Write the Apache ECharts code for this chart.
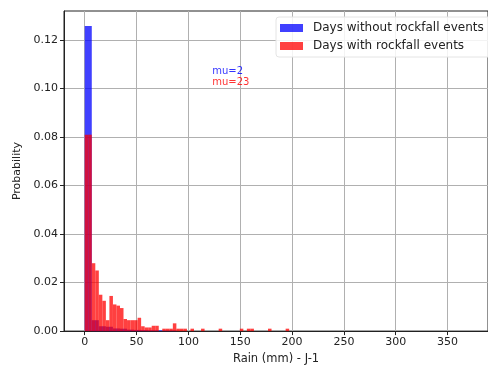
<!DOCTYPE html>
<html>
<head>
<meta charset="utf-8">
<script src="https://cdn.jsdelivr.net/npm/echarts@6/dist/echarts.min.js"></script>
<style>
  html, body { margin: 0; padding: 0; background: #fff; }
  #main { width: 488px; height: 370px; }
</style>
</head>
<body>
<div id="main"></div>
<script>
// histogram bins (bin width in mm, heights = probability)
var blueWidth = 6.8;
var blueHeights = [0.1258, 0.0045, 0.002, 0.0018, 0.0011, 0.001, 0.0006, 0.0005, 0.0004, 0.0003, 0.0003, 0.0002, 0.0002];
var redWidth = 3.4;
var redHeights = [
  0.081, 0.081, 0.028, 0.025, 0.015, 0.0125, 0.0045, 0.0145, 0.011, 0.0105,
  0.0095, 0.005, 0.0045, 0.0045, 0.0045, 0.0055, 0.002, 0.0015, 0.0015, 0.0022,
  0.0022, 0, 0.001, 0.001, 0.001, 0.0032, 0.001, 0.001, 0.001, 0,
  0.001, 0, 0, 0.001, 0, 0, 0, 0, 0.001, 0,
  0, 0, 0, 0, 0.001, 0, 0.001, 0.001, 0, 0,
  0, 0, 0.001, 0, 0, 0, 0, 0.001
];
var seriesNames = ['Days without rockfall events', 'Days with rockfall events'];
var muLabels = ['mu=2', 'mu=23'];
var xTicks = [0, 50, 100, 150, 200, 250, 300, 350];
var yTicks = [0, 0.02, 0.04, 0.06, 0.08, 0.10, 0.12];

var chart = echarts.init(document.getElementById('main'));

function toBins(width, heights) {
  var out = [];
  for (var i = 0; i < heights.length; i++) {
    out.push([i * width, (i + 1) * width, heights[i]]);
  }
  return out;
}

function renderBin(params, api) {
  var p0 = api.coord([api.value(0), api.value(2)]);
  var p1 = api.coord([api.value(1), 0]);
  return {
    type: 'rect',
    shape: { x: p0[0], y: p0[1], width: p1[0] - p0[0], height: p1[1] - p0[1] },
    style: { fill: api.visual('color') }
  };
}

var txt = '#222';
var font = 'DejaVu Sans';

var option = {
  animation: false,
  textStyle: { fontFamily: font },
  grid: {
    left: 64, top: 11, bottom: 38, right: -3,
    show: true, borderColor: '#222', borderWidth: 1
  },
  legend: {
    orient: 'vertical',
    left: 276, top: 17,
    padding: [5, 10, 5, 4],
    itemGap: 6,
    itemWidth: 23, itemHeight: 8,
    backgroundColor: 'rgba(255,255,255,0.85)',
    borderColor: '#e4e4e4', borderWidth: 1, borderRadius: 3,
    textStyle: { fontSize: 12, color: txt, fontFamily: font, padding: [0, 0, 0, 5] },
    data: [
      { name: seriesNames[0], icon: 'rect', itemStyle: { color: 'rgba(0,0,255,0.75)' } },
      { name: seriesNames[1], icon: 'rect', itemStyle: { color: 'rgba(255,0,0,0.75)' } }
    ]
  },
  xAxis: {
    type: 'value',
    min: -20, max: 389,
    splitNumber: 8,
    name: 'Rain (mm) - J-1',
    nameLocation: 'middle',
    nameGap: 19,
    nameTextStyle: { fontSize: 11.5, color: txt, fontFamily: font },
    axisLine: { show: true, onZero: false, lineStyle: { color: '#222' } },
    axisTick: { show: true, length: 4, inside: false, customValues: xTicks, lineStyle: { color: '#222' } },
    axisLabel: { fontSize: 11, color: txt, margin: 6, customValues: xTicks, fontFamily: font },
    splitLine: { show: true, lineStyle: { color: '#b0b0b0', width: 1 } }
  },
  yAxis: {
    type: 'value',
    min: 0, max: 0.132,
    interval: 0.02,
    name: 'Probability',
    nameLocation: 'middle',
    nameGap: 40,
    nameTextStyle: { fontSize: 11, color: txt, fontFamily: font },
    axisLine: { show: true, onZero: false, lineStyle: { color: '#222' } },
    axisTick: { show: true, length: 4, customValues: yTicks, lineStyle: { color: '#222' } },
    axisLabel: {
      fontSize: 11, color: txt, margin: 6, customValues: yTicks, fontFamily: font,
      formatter: function (v) { return v.toFixed(2); }
    },
    splitLine: { show: true, lineStyle: { color: '#b0b0b0', width: 1 } }
  },
  series: [
    {
      name: seriesNames[0],
      type: 'custom',
      color: 'rgba(0,0,255,0.75)',
      renderItem: renderBin,
      encode: { x: [0, 1], y: 2 },
      data: toBins(blueWidth, blueHeights)
    },
    {
      name: seriesNames[1],
      type: 'custom',
      color: 'rgba(255,0,0,0.75)',
      renderItem: renderBin,
      encode: { x: [0, 1], y: 2 },
      data: toBins(redWidth, redHeights)
    },
    {
      type: 'scatter',
      symbolSize: 0,
      silent: true,
      label: {
        show: true, position: [0, 0], align: 'left', verticalAlign: 'bottom',
        fontSize: 10, fontFamily: font,
        formatter: function (p) { return p.data.text; }
      },
      data: [
        { value: [123, 0.1052], text: muLabels[0], label: { color: '#0000ff' } },
        { value: [123, 0.1003], text: muLabels[1], label: { color: '#ff0000' } }
      ]
    }
  ]
};

chart.setOption(option);
</script>
</body>
</html>
